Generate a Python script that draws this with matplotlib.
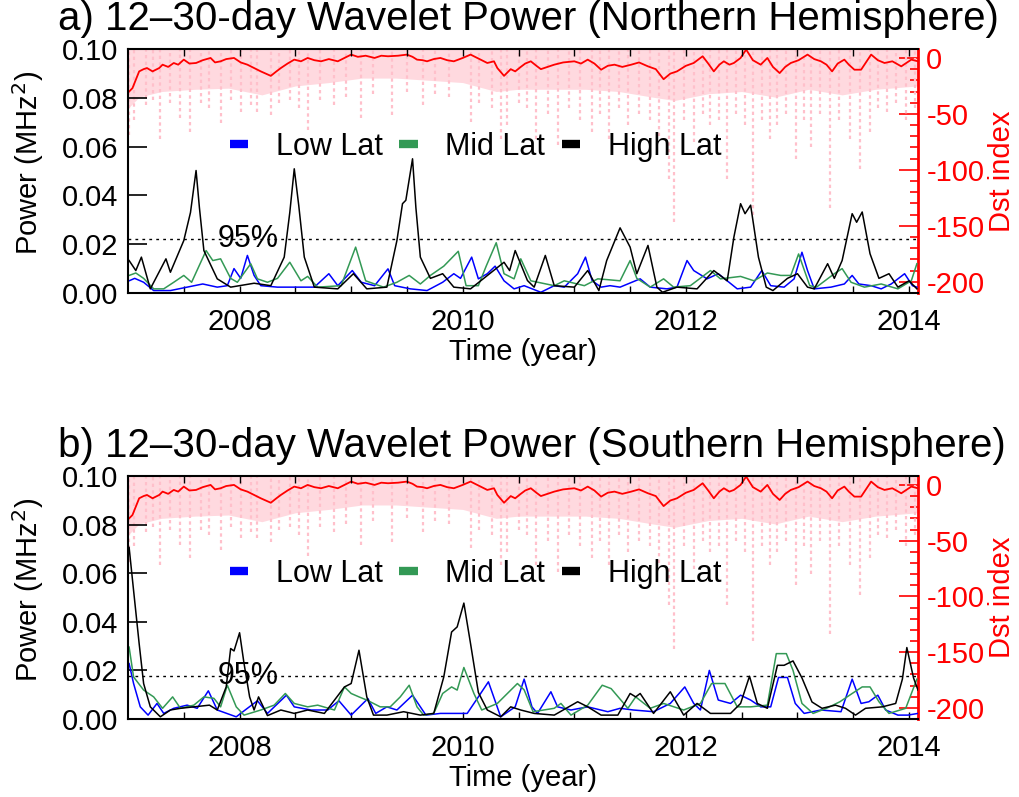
import numpy as np
import matplotlib
matplotlib.use('Agg')
import matplotlib.pyplot as plt
from matplotlib.lines import Line2D

plt.rcParams['font.family'] = ['Liberation Sans', 'DejaVu Sans']
plt.rcParams['axes.unicode_minus'] = False

# ---- 12-30 day wavelet power, (year, MHz^2) ----
north_low = [(2007.01, 0.005), (2007.06, 0.006), (2007.14, 0.0044), (2007.23, 0.001), (2007.38, 0.001),
             (2007.53, 0.0024), (2007.67, 0.0037), (2007.80, 0.0024), (2007.89, 0.003), (2007.95, 0.010),
             (2008.01, 0.006), (2008.07, 0.0154), (2008.13, 0.0072), (2008.19, 0.003), (2008.34, 0.0024),
             (2008.49, 0.0024), (2008.67, 0.0024), (2008.80, 0.0079), (2008.88, 0.003), (2009.01, 0.0092),
             (2009.09, 0.0044), (2009.21, 0.003), (2009.33, 0.0099), (2009.39, 0.003), (2009.53, 0.0017),
             (2009.68, 0.001), (2009.82, 0.0044), (2009.92, 0.0079), (2009.98, 0.006), (2010.08, 0.0147),
             (2010.14, 0.0058), (2010.22, 0.0079), (2010.29, 0.011), (2010.37, 0.005), (2010.46, 0.0017),
             (2010.55, 0.003), (2010.70, 0.0003), (2010.82, 0.003), (2010.91, 0.0024), (2011.03, 0.0079),
             (2011.10, 0.0147), (2011.16, 0.005), (2011.24, 0.0024), (2011.32, 0.003), (2011.41, 0.0024),
             (2011.59, 0.0058), (2011.68, 0.0024), (2011.83, 0.0017), (2011.92, 0.0024), (2012.01, 0.0133),
             (2012.07, 0.0092), (2012.19, 0.0058), (2012.29, 0.0079), (2012.37, 0.005), (2012.46, 0.0017),
             (2012.58, 0.0024), (2012.68, 0.0092), (2012.76, 0.003), (2012.88, 0.0024), (2012.97, 0.0058),
             (2013.04, 0.0167), (2013.09, 0.0092), (2013.15, 0.0017), (2013.30, 0.0024), (2013.42, 0.0037),
             (2013.49, 0.0072), (2013.55, 0.0037), (2013.66, 0.003), (2013.75, 0.0017), (2013.84, 0.0037),
             (2013.96, 0.0079), (2014.03, 0.003), (2014.07, 0.0024)]
north_mid = [(2007.01, 0.0072), (2007.07, 0.0082), (2007.14, 0.006), (2007.23, 0.0017), (2007.32, 0.0017),
             (2007.41, 0.0044), (2007.50, 0.0072), (2007.57, 0.0044), (2007.70, 0.0174), (2007.76, 0.0133),
             (2007.83, 0.014), (2007.92, 0.006), (2007.98, 0.0044), (2008.10, 0.012), (2008.16, 0.0058),
             (2008.25, 0.0044), (2008.34, 0.006), (2008.45, 0.0126), (2008.55, 0.005), (2008.61, 0.0068),
             (2008.70, 0.0024), (2008.91, 0.003), (2009.04, 0.0188), (2009.13, 0.005), (2009.29, 0.0024),
             (2009.41, 0.0044), (2009.52, 0.0072), (2009.62, 0.0037), (2009.71, 0.0072), (2009.83, 0.011),
             (2009.96, 0.0171), (2010.03, 0.003), (2010.14, 0.003), (2010.21, 0.011), (2010.30, 0.0206),
             (2010.37, 0.0079), (2010.46, 0.0058), (2010.52, 0.014), (2010.61, 0.005), (2010.82, 0.003),
             (2010.91, 0.005), (2011.09, 0.003), (2011.21, 0.0058), (2011.29, 0.0055), (2011.41, 0.005),
             (2011.50, 0.0133), (2011.56, 0.006), (2011.68, 0.0024), (2011.80, 0.0058), (2011.89, 0.0024),
             (2012.04, 0.003), (2012.22, 0.0092), (2012.31, 0.0058), (2012.49, 0.0068), (2012.61, 0.005),
             (2012.73, 0.0082), (2012.85, 0.0072), (2012.94, 0.0072), (2013.01, 0.016), (2013.11, 0.003),
             (2013.17, 0.0024), (2013.33, 0.0079), (2013.40, 0.010), (2013.48, 0.0044), (2013.60, 0.0024),
             (2013.75, 0.0037), (2013.90, 0.0017), (2014.02, 0.005), (2014.07, 0.012)]
north_high = [(2007.01, 0.0133), (2007.07, 0.0092), (2007.12, 0.0147), (2007.20, 0.0017), (2007.34, 0.014),
              (2007.38, 0.0085), (2007.50, 0.0215), (2007.56, 0.033), (2007.61, 0.0502), (2007.64, 0.035),
              (2007.68, 0.0174), (2007.80, 0.0058),
              (2007.92, 0.0024), (2008.13, 0.004), (2008.28, 0.003), (2008.40, 0.0147), (2008.45, 0.033),
              (2008.49, 0.0509), (2008.53, 0.036),
              (2008.58, 0.0147), (2008.67, 0.0024), (2008.88, 0.0017), (2009.02, 0.0079), (2009.14, 0.0017),
              (2009.32, 0.0024), (2009.41, 0.0215), (2009.46, 0.0366), (2009.49, 0.038), (2009.55, 0.055),
              (2009.58, 0.035),
              (2009.62, 0.0147), (2009.71, 0.006), (2009.82, 0.0079), (2009.92, 0.0024), (2010.07, 0.0017),
              (2010.37, 0.0126), (2010.42, 0.0092), (2010.47, 0.0174), (2010.58, 0.0051), (2010.64, 0.0024),
              (2010.74, 0.0154), (2010.82, 0.003), (2011.00, 0.0024), (2011.12, 0.0092), (2011.22, 0.001),
              (2011.29, 0.0133), (2011.41, 0.0267), (2011.50, 0.0188), (2011.56, 0.0079), (2011.66, 0.0195),
              (2011.74, 0.0024), (2011.79, 0.0003), (2011.92, 0.0024), (2012.10, 0.0017), (2012.25, 0.0092),
              (2012.37, 0.005), (2012.43, 0.0229), (2012.49, 0.0366), (2012.53, 0.0325), (2012.58, 0.036),
              (2012.65, 0.0147), (2012.72, 0.0024), (2012.78, 0.001), (2012.91, 0.006), (2013.00, 0.0079),
              (2013.09, 0.0024), (2013.15, 0.0017), (2013.27, 0.012), (2013.33, 0.006), (2013.40, 0.0133),
              (2013.49, 0.0325), (2013.53, 0.029), (2013.58, 0.0332), (2013.65, 0.0161), (2013.73, 0.006),
              (2013.82, 0.0079), (2013.90, 0.0024), (2014.00, 0.005), (2014.07, 0.0017)]

south_low = [(2007.01, 0.0228), (2007.05, 0.0146), (2007.11, 0.005), (2007.18, 0.0016), (2007.26, 0.0064),
             (2007.32, 0.0023), (2007.41, 0.0044), (2007.53, 0.0057), (2007.62, 0.0044), (2007.72, 0.0116),
             (2007.80, 0.0037), (2007.97, 0.0009), (2008.05, 0.0037), (2008.16, 0.0075), (2008.25, 0.0023),
             (2008.42, 0.0098), (2008.49, 0.005), (2008.64, 0.0037), (2008.79, 0.0037), (2008.89, 0.0075),
             (2009.00, 0.0016), (2009.15, 0.0084), (2009.22, 0.0023), (2009.32, 0.005), (2009.41, 0.0037),
             (2009.55, 0.0098), (2009.67, 0.0016), (2009.80, 0.0023), (2009.92, 0.0023), (2010.04, 0.0023),
             (2010.14, 0.0091), (2010.23, 0.0153), (2010.34, 0.0009), (2010.47, 0.005), (2010.55, 0.0164),
             (2010.62, 0.005), (2010.67, 0.0023), (2010.79, 0.0112), (2010.85, 0.005), (2010.97, 0.0037),
             (2011.12, 0.005), (2011.30, 0.003), (2011.41, 0.0044), (2011.53, 0.0037), (2011.71, 0.003),
             (2011.86, 0.0064), (2011.99, 0.0132), (2012.07, 0.0064), (2012.13, 0.0037), (2012.21, 0.020),
             (2012.29, 0.0078), (2012.40, 0.0064), (2012.49, 0.0098), (2012.58, 0.0078), (2012.67, 0.005),
             (2012.76, 0.005), (2012.83, 0.0171), (2012.91, 0.0171), (2012.98, 0.0064), (2013.06, 0.0023),
             (2013.21, 0.0037), (2013.39, 0.003), (2013.49, 0.0164), (2013.57, 0.0064), (2013.64, 0.0071),
             (2013.72, 0.0098), (2013.79, 0.0037), (2013.90, 0.0016), (2013.99, 0.0016), (2014.08, 0.0023)]
south_mid = [(2007.01, 0.0296), (2007.05, 0.0173), (2007.14, 0.0119), (2007.23, 0.0091), (2007.31, 0.0044),
             (2007.40, 0.0091), (2007.47, 0.0044), (2007.59, 0.0057), (2007.68, 0.0091), (2007.77, 0.0085),
             (2007.83, 0.005), (2007.89, 0.0139), (2007.97, 0.005), (2008.04, 0.0016), (2008.19, 0.0037),
             (2008.31, 0.0057), (2008.41, 0.0105), (2008.49, 0.0064), (2008.61, 0.005), (2008.70, 0.0057),
             (2008.85, 0.0037), (2008.94, 0.0132), (2009.00, 0.0105), (2009.07, 0.0091), (2009.14, 0.0078),
             (2009.26, 0.005), (2009.35, 0.005), (2009.44, 0.0091), (2009.52, 0.0139), (2009.59, 0.005),
             (2009.65, 0.0016), (2009.74, 0.0023), (2009.82, 0.0105), (2009.90, 0.0132), (2009.95, 0.0119),
             (2010.01, 0.0212), (2010.10, 0.0105), (2010.17, 0.0037), (2010.31, 0.0064), (2010.40, 0.0105),
             (2010.49, 0.0146), (2010.55, 0.012), (2010.63, 0.003), (2010.82, 0.0044), (2010.88, 0.0064),
             (2010.97, 0.0016), (2011.12, 0.0057), (2011.25, 0.0139), (2011.33, 0.0125), (2011.48, 0.0044),
             (2011.55, 0.0091), (2011.68, 0.0044), (2011.80, 0.0064), (2011.98, 0.0037), (2012.13, 0.0064),
             (2012.23, 0.0146), (2012.35, 0.0146), (2012.46, 0.005), (2012.58, 0.005), (2012.73, 0.0057),
             (2012.81, 0.0269), (2012.90, 0.0269), (2012.96, 0.020), (2013.04, 0.0064), (2013.14, 0.0023),
             (2013.26, 0.0044), (2013.38, 0.0071), (2013.49, 0.0105), (2013.58, 0.0132), (2013.65, 0.0132),
             (2013.73, 0.0071), (2013.82, 0.0023), (2013.97, 0.0044), (2014.07, 0.0164)]
south_high = [(2007.01, 0.0706), (2007.05, 0.0529), (2007.10, 0.031), (2007.14, 0.0146), (2007.20, 0.005),
              (2007.29, 0.0009), (2007.38, 0.0037), (2007.47, 0.0044), (2007.59, 0.005), (2007.73, 0.0057),
              (2007.80, 0.0037), (2007.88, 0.0132), (2007.92, 0.029), (2007.95, 0.028), (2008.00, 0.0355),
              (2008.04, 0.0228), (2008.09, 0.0091), (2008.13, 0.0037), (2008.17, 0.0091), (2008.25, 0.0014),
              (2008.37, 0.0037), (2008.49, 0.0023), (2008.61, 0.0037), (2008.76, 0.0023), (2008.94, 0.0132),
              (2009.00, 0.0146), (2009.07, 0.0283), (2009.14, 0.0091), (2009.20, 0.0016), (2009.32, 0.0016),
              (2009.47, 0.003), (2009.62, 0.0016), (2009.74, 0.0023), (2009.83, 0.0173), (2009.90, 0.0358),
              (2009.95, 0.0379), (2010.01, 0.0477), (2010.07, 0.031), (2010.14, 0.0109), (2010.22, 0.0037),
              (2010.34, 0.0009), (2010.43, 0.005), (2010.52, 0.0037), (2010.64, 0.0023), (2010.82, 0.0016),
              (2011.03, 0.0071), (2011.12, 0.005), (2011.24, 0.0016), (2011.39, 0.0016), (2011.50, 0.0105),
              (2011.55, 0.0091), (2011.59, 0.0105), (2011.71, 0.0023), (2011.86, 0.0112), (2011.98, 0.0016),
              (2012.10, 0.0064), (2012.22, 0.0023), (2012.40, 0.0023), (2012.49, 0.0064), (2012.57, 0.0176),
              (2012.64, 0.0064), (2012.73, 0.0044), (2012.82, 0.0221), (2012.88, 0.0221), (2012.96, 0.0239),
              (2013.04, 0.0169), (2013.13, 0.007), (2013.22, 0.0044), (2013.34, 0.0057), (2013.43, 0.0044),
              (2013.52, 0.0016), (2013.61, 0.0044), (2013.76, 0.005), (2013.88, 0.0064), (2013.94, 0.0164),
              (2013.98, 0.0294), (2014.04, 0.0169), (2014.08, 0.0119)]

north_95 = 0.0222
south_95 = 0.0177

# ---- Dst index (nT): smoothed curve, lower edge of the quiet band, storm spikes ----
dst_smooth = [(2007.01, -30), (2007.04, -27), (2007.10, -12), (2007.14, -10), (2007.17, -9), (2007.22, -12),
              (2007.28, -9), (2007.31, -6), (2007.36, -8), (2007.41, -4.5), (2007.45, -6), (2007.50, -1.5),
              (2007.55, -5), (2007.61, -4.5), (2007.67, -2), (2007.74, 0), (2007.78, -4), (2007.83, -3),
              (2007.88, -1), (2007.95, 0), (2008.01, -4), (2008.07, -6), (2008.13, -9), (2008.19, -12),
              (2008.28, -16), (2008.33, -12), (2008.37, -9), (2008.43, -5), (2008.49, -1.5), (2008.55, -3),
              (2008.61, 0), (2008.67, -2), (2008.73, -3), (2008.80, -1), (2008.88, -3), (2008.94, 0),
              (2009.00, 3), (2009.06, 1), (2009.13, 2), (2009.21, 0), (2009.27, 2), (2009.33, 1.5),
              (2009.42, 2), (2009.50, 3), (2009.55, 1), (2009.59, -1.5), (2009.64, -2), (2009.68, -3),
              (2009.74, -1), (2009.80, 0), (2009.86, -2), (2009.92, -3), (2010.00, 0), (2010.07, 3),
              (2010.15, -1), (2010.22, -4.5), (2010.28, -3), (2010.31, -9), (2010.37, -16), (2010.43, -10),
              (2010.47, -12), (2010.52, -8), (2010.56, -5), (2010.61, -3), (2010.66, -7), (2010.70, -10),
              (2010.76, -8), (2010.82, -6), (2010.90, -4), (2011.00, -3), (2011.06, -5), (2011.12, -1.5),
              (2011.18, -5), (2011.24, -10.5), (2011.30, -7), (2011.36, -6), (2011.43, -8), (2011.51, -6),
              (2011.58, -4), (2011.66, -7.5), (2011.73, -10), (2011.80, -19), (2011.86, -14), (2011.92, -12),
              (2012.00, -7), (2012.07, -4.5), (2012.15, 1.5), (2012.20, -5), (2012.25, -12), (2012.30, -6),
              (2012.34, -3), (2012.39, -6), (2012.43, -4.5), (2012.49, 0), (2012.54, 7.5), (2012.60, -2),
              (2012.67, -6), (2012.73, 0), (2012.78, -8), (2012.84, -13.5), (2012.89, -8), (2012.94, -4.5),
              (2013.01, -2), (2013.09, 3), (2013.15, -1), (2013.21, -3), (2013.26, -6), (2013.31, -12),
              (2013.36, -5), (2013.42, -1.5), (2013.46, -6), (2013.51, -10.5), (2013.57, -10.5), (2013.62, -3),
              (2013.66, 3), (2013.72, -2), (2013.78, -4.5), (2013.85, -3), (2013.93, -7.5), (2014.02, -1.5),
              (2014.08, -3)]
dst_band_low = [(2007.0, -45), (2007.1, -35), (2007.3, -30), (2007.6, -28), (2007.9, -27), (2008.2, -33),
                (2008.5, -25), (2008.8, -22), (2009.1, -18), (2009.4, -18), (2009.7, -20), (2010.0, -22),
                (2010.3, -30), (2010.5, -28), (2010.8, -28), (2011.1, -28), (2011.4, -30), (2011.7, -35),
                (2011.9, -38), (2012.2, -32), (2012.5, -30), (2012.8, -35), (2013.1, -28), (2013.4, -33),
                (2013.7, -28), (2014.08, -25)]
dst_storms = [(2007.01, -69), (2007.05, -55), (2007.16, -42), (2007.22, -38), (2007.29, -72), (2007.38, -40),
              (2007.47, -54), (2007.56, -66), (2007.65, -40), (2007.73, -45), (2007.83, -58), (2007.92, -38),
              (2008.01, -48), (2008.10, -42), (2008.16, -48), (2008.28, -51), (2008.35, -40), (2008.45, -38),
              (2008.53, -45), (2008.61, -64), (2008.72, -38), (2008.85, -42), (2008.95, -35), (2009.09, -54),
              (2009.20, -32), (2009.37, -51), (2009.50, -30), (2009.64, -42), (2009.75, -32), (2009.88, -35),
              (2010.07, -57), (2010.15, -40), (2010.26, -45), (2010.34, -72), (2010.40, -60), (2010.50, -40),
              (2010.58, -45), (2010.66, -72), (2010.76, -50), (2010.85, -78), (2010.95, -45), (2011.05, -55),
              (2011.16, -66), (2011.23, -50), (2011.31, -72), (2011.40, -45), (2011.48, -60), (2011.58, -50),
              (2011.68, -55), (2011.76, -70), (2011.85, -108), (2011.89, -147), (2011.98, -55), (2012.07, -75),
              (2012.15, -50), (2012.22, -60), (2012.30, -55), (2012.37, -108), (2012.45, -50), (2012.53, -60),
              (2012.60, -140), (2012.68, -55), (2012.75, -72), (2012.82, -60), (2012.90, -50), (2012.99, -90),
              (2013.06, -55), (2013.12, -80), (2013.20, -50), (2013.29, -134), (2013.37, -55), (2013.47, -72),
              (2013.56, -99), (2013.65, -66), (2013.72, -45), (2013.80, -48), (2013.88, -40), (2013.97, -55),
              (2014.05, -45)]
dst_top = 8

titles = ['a) 12\u201330-day Wavelet Power (Northern Hemisphere)',
          'b) 12\u201330-day Wavelet Power (Southern Hemisphere)']
panels = [(north_low, north_mid, north_high, north_95), (south_low, south_mid, south_high, south_95)]
series_colors = ['#0000ff', '#339955', 'k']
series_names = ['Low Lat', 'Mid Lat', 'High Lat']

W, H = 1020, 797
fig = plt.figure(figsize=(W / 100, H / 100), dpi=100)
boxes = [(49, 293), (476, 719)]  # axes top/bottom in pixels
left_px, right_px = 128, 918
fs = 21

for k, (top_px, bot_px) in enumerate(boxes):
    rect = [left_px / W, 1 - bot_px / H, (right_px - left_px) / W, (bot_px - top_px) / H]
    ax = fig.add_axes(rect)
    ax2 = ax.twinx()
    ax.set_zorder(ax2.get_zorder() + 1)
    ax.patch.set_visible(False)

    # Dst on the right axis
    bt, bv = np.array(dst_band_low).T
    ax2.fill_between(bt, bv, dst_top, color='pink', lw=0, alpha=0.6)
    st, sv = np.array(dst_storms).T
    ax2.vlines(st, sv, dst_top, color='pink', lw=1.6, linestyles=(0, (1.5, 1.5)))
    dt, dv = np.array(dst_smooth).T
    ax2.plot(dt, dv, color='red', lw=1.3)
    ax2.set_ylim(-210, 8)
    ax2.set_yticks([-200, -150, -100, -50, 0])
    ax2.set_yticks(np.arange(-200, 1, 10), minor=True)
    ax2.tick_params(axis='y', which='major', direction='in', length=14, width=1.2, colors='red',
                    labelsize=fs, pad=6)
    ax2.tick_params(axis='y', which='minor', direction='in', length=6, width=1.2, colors='red')
    ax2.spines['right'].set_color('red')
    ax2.spines['right'].set_linewidth(2)
    for s in ['left', 'top', 'bottom']:
        ax2.spines[s].set_visible(False)

    # wavelet power
    low, mid, high, thr = panels[k]
    for data, c in zip([low, mid, high], series_colors):
        t, p = np.array(data).T
        ax.plot(t, p, color=c, lw=1.1)
    ax.axhline(thr, color='k', lw=1, ls=(0, (2, 3)))
    ax.text(2007.80, thr, '95%', fontsize=22, va='center', ha='left')

    ax.set_xlim(2007.0, 2014.08)
    ax.set_ylim(0, 0.1)
    ax.set_yticks([0, 0.02, 0.04, 0.06, 0.08, 0.10])
    ax.set_yticklabels(['%.2f' % v for v in [0, 0.02, 0.04, 0.06, 0.08, 0.10]])
    ax.set_xticks([2008, 2010, 2012, 2014])
    ax.set_xticks(np.arange(2007.5, 2014.01, 0.5), minor=True)
    ax.tick_params(axis='x', which='both', direction='in', length=5, width=1, top=True, pad=11,
                   labelsize=fs)
    ax.tick_params(axis='x', which='minor', labelbottom=False)
    ax.tick_params(axis='y', direction='in', length=14, width=1.2, pad=7, labelsize=fs)
    for s in ['left', 'top', 'bottom']:
        ax.spines[s].set_linewidth(1.5)
    ax.spines['right'].set_visible(False)

    handles = [Line2D([], [], color=c, lw=6, solid_capstyle='butt') for c in series_colors]
    ax.legend(handles, series_names, loc='center left', bbox_to_anchor=(0.129, 0.598), ncol=3,
              frameon=False, fontsize=22, handlelength=0.6, handletextpad=0.9, columnspacing=0.55,
              borderpad=0, borderaxespad=0)

    yc = 1 - (top_px + bot_px) / 2 / H
    fig.text(58 / W, 1 - (top_px - 30) / H, titles[k], fontsize=29, ha='left', va='center')
    fig.text(28 / W, yc + 8 / H, 'Power (MHz$^2$)', fontsize=fs, rotation=90, ha='center', va='center')
    fig.text(1002 / W, yc, 'Dst index', fontsize=fs, rotation=90, ha='center', va='center', color='red')
    fig.text(523 / W, 1 - (bot_px + 59) / H, 'Time (year)', fontsize=fs, ha='center', va='center')

fig.savefig('out.png', dpi=100)
